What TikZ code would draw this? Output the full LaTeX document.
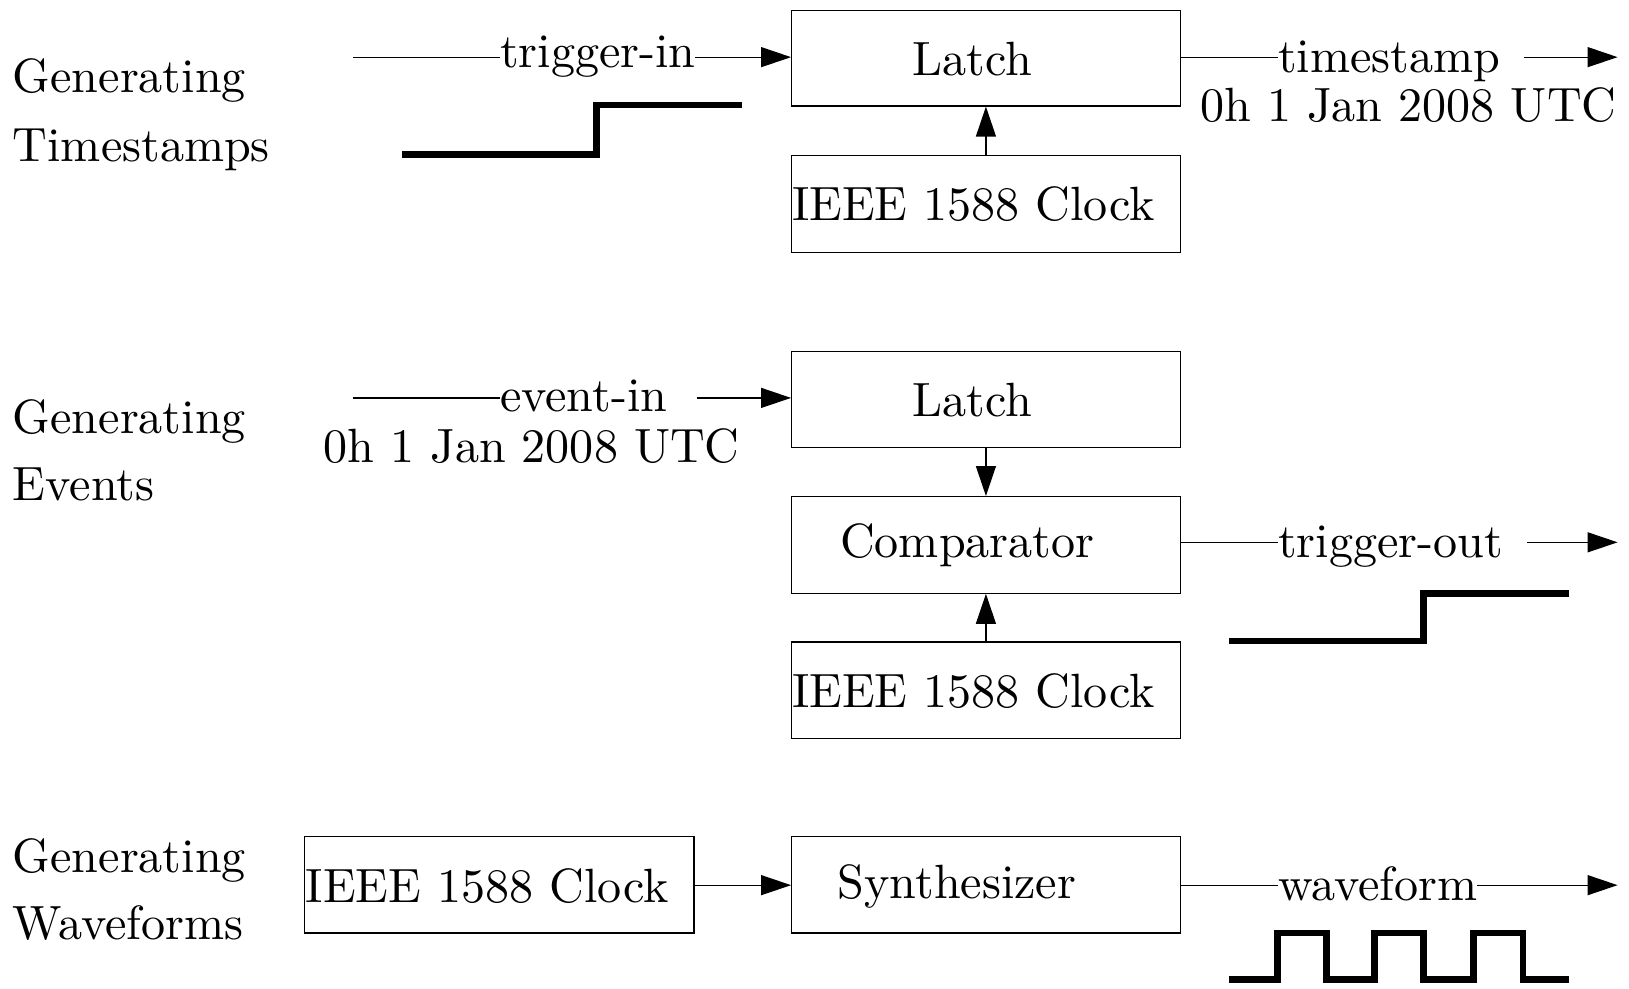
\documentclass[tikz,border=0pt]{standalone}
\usetikzlibrary{arrows.meta,fit}
\font\cmten="[lmroman10-regular]" at 24.05pt
\begin{document}
\begin{tikzpicture}[x=0.5195pt,y=-0.5195pt,
  box/.style={draw, line width=0.6pt, inner sep=0pt, rectangle},
  txt/.style={inner sep=0pt, font=\cmten},
  lbl/.style={txt, fill=white},
  arr/.style={line width=0.6pt, -{Triangle[length=15pt,width=10pt]}},
  wave/.style={line width=3.4pt, line join=miter}]
\useasboundingbox (0,0) rectangle (1568,951);

% left titles
\node[txt, anchor=base west] (t1a) at (12,89) {Generating};
\node[txt, anchor=base west] (t1b) at (12,155) {Timestamps};
\node[txt, anchor=base west] (t2a) at (12,417) {Generating};
\node[txt, anchor=base west] (t2b) at (12,482) {Events};
\node[txt, anchor=base west] (t3a) at (12,840) {Generating};
\node[txt, anchor=base west] (t3b) at (12,904) {Waveforms};

% boxes
\node[box, fit={(762,10)(1136,102)}] (L1) {};
\node[box, fit={(762,150)(1136,243)}] (C1) {};
\node[box, fit={(762,338)(1136,431)}] (L2) {};
\node[box, fit={(762,478)(1136,571)}] (Cmp) {};
\node[box, fit={(762,618)(1136,711)}] (C2) {};
\node[box, fit={(762,805)(1136,898)}] (Syn) {};
\node[box, fit={(293,805)(668,898)}] (C3) {};

% box texts
\node[txt, anchor=base] (L1t) at (936,73) {Latch};
\node[txt, anchor=base west] (C1t) at (762,212) {IEEE 1588 Clock};
\node[txt, anchor=base] (L2t) at (936,401) {Latch};
\node[txt, anchor=base] (Cmpt) at (931,537) {Comparator};
\node[txt, anchor=base west] (C2t) at (762,681) {IEEE 1588 Clock};
\node[txt, anchor=base] (Synt) at (921,865) {Synthesizer};
\node[txt, anchor=base west] (C3t) at (294,869) {IEEE 1588 Clock};

% coordinates
\coordinate (tinS) at (340,55);
\coordinate (tsE) at (1557,55);
\coordinate (einS) at (340,383);
\coordinate (toE) at (1557,522);
\coordinate (wfE) at (1557,852);

% connectors
\draw[arr] (tinS) -- (L1.west |- tinS);
\draw[arr] (C1.north) -- (L1.south);
\draw[arr] (L1.east |- tsE) -- (tsE);
\draw[arr] (einS) -- (L2.west |- einS);
\draw[arr] (L2.south) -- (Cmp.north);
\draw[arr] (C2.north) -- (Cmp.south);
\draw[arr] (Cmp.east |- toE) -- (toE);
\draw[arr] (C3.east |- wfE) -- (Syn.west |- wfE);
\draw[arr] (Syn.east |- wfE) -- (wfE);

% labels on connectors
\node[lbl, anchor=base west] (tinl) at (481,65) {trigger-in};
\node[lbl, anchor=base west] (tsl) at (1230,70) {timestamp\kern12pt};
\node[txt, anchor=base west] (tsd) at (1155,117) {0h 1 Jan 2008 UTC};
\node[lbl, anchor=base west] (einl) at (481,396) {event-in\kern15pt};
\node[txt, anchor=base west] (eind) at (311,445) {0h 1 Jan 2008 UTC};
\node[lbl, anchor=base west] (tol) at (1230,537) {trigger-out\kern12pt};
\node[lbl, anchor=base west] (wfl) at (1230,867) {waveform};

% waveforms
\draw[wave] (387,149) -- (574,149) -- (574,101) -- (714,101);
\draw[wave] (1183,617) -- (1370,617) -- (1370,571) -- (1510,571);
\draw[wave] (1183,943) -- (1230,943) -- (1230,898) -- (1277,898) -- (1277,943)
  -- (1323,943) -- (1323,898) -- (1370,898) -- (1370,943) -- (1418,943)
  -- (1418,898) -- (1466,898) -- (1466,943) -- (1510,943);
\end{tikzpicture}
\end{document}
